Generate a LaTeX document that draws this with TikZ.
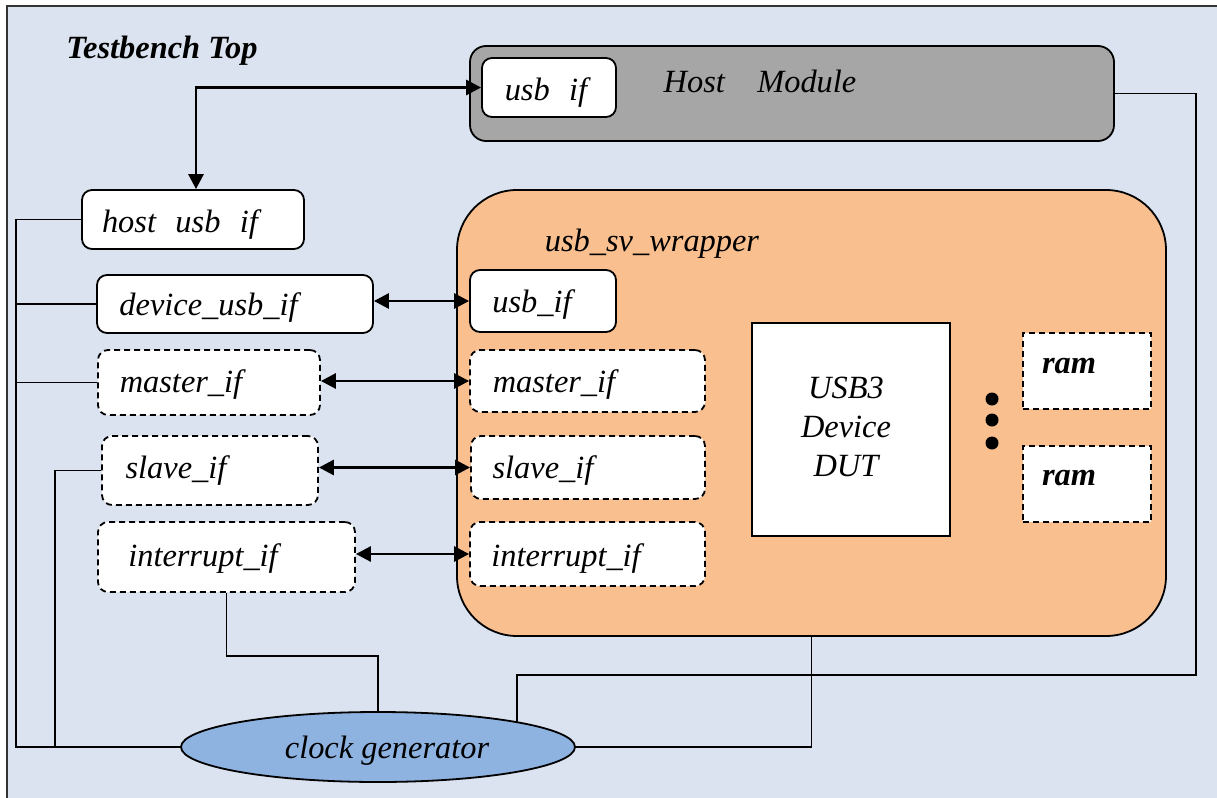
\documentclass[tikz,border=0pt]{standalone}
\usepackage{fontspec}
\setmainfont{Liberation Serif}
\usetikzlibrary{arrows.meta,shapes.geometric,calc}
\pgfdeclarelayer{bg}
\pgfdeclarelayer{wires}
\pgfsetlayers{bg,wires,main}
\definecolor{tbblue}{HTML}{DAE3EF}
\definecolor{hostgrey}{HTML}{A6A6A6}
\definecolor{wrapfill}{HTML}{F9BF8F}
\definecolor{clkfill}{HTML}{8EB3E1}
\tikzset{
  lbl/.style={font=\fontsize{16.2}{19.5}\selectfont\itshape, inner sep=0pt, align=center, yshift=-1.5pt},
  blbl/.style={font=\fontsize{16.2}{19.5}\selectfont\bfseries\itshape, inner sep=0pt, yshift=-1.5pt},
  ifbox/.style={draw, line width=0.9pt, fill=white, rounded corners=5pt, inner sep=0pt},
  dashbox/.style={ifbox, dash pattern=on 3pt off 2pt},
  wire/.style={line width=0.9pt},
  link/.style={line width=1.4pt, {Triangle[length=7.5pt,width=7.5pt]}-{Triangle[length=7.5pt,width=7.5pt]}},
}
\begin{document}
\begin{tikzpicture}[x=0.5pt,y=-0.5pt]
\useasboundingbox (0,0) rectangle (1217,798);

% testbench frame
\begin{pgfonlayer}{bg}
  \fill[tbblue] (7,6) rectangle (1217,798);
  \draw[line width=0.7pt, black!80] (7,798) -- (7,6) -- (1217,6);
\end{pgfonlayer}

\node[blbl, anchor=west] (tbtitle) at (66,48) {Testbench Top};

% host module
\node[draw, line width=0.9pt, fill=hostgrey, rounded corners=8pt, minimum width=322pt, minimum height=47.5pt, inner sep=0pt] (hostmod) at (792,93.5) {};
\node[lbl] (hostlbl) at (760,78) {Host\hspace{1em}Module};
\node[ifbox, minimum width=67pt, minimum height=29.5pt] (husb) at (549,87.5) {};
\node[lbl] (husblbl) at (546,90) {usb\hspace{0.6em}if};

% testbench-side interfaces
\node[ifbox, minimum width=111pt, minimum height=29.5pt] (hostusb) at (193,219.5) {};
\node[lbl] at (180,222) {host\hspace{0.6em}usb\hspace{0.6em}if};
\node[ifbox, minimum width=138pt, minimum height=29pt] (devusb) at (235,304) {};
\node[lbl] at (208.5,305) {device\_usb\_if};
\node[dashbox, minimum width=111pt, minimum height=32.5pt] (masterL) at (209,382.5) {};
\node[lbl] at (181,382) {master\_if};
\node[dashbox, minimum width=108pt, minimum height=34.5pt] (slaveL) at (210,470.5) {};
\node[lbl] at (176,468) {slave\_if};
\node[dashbox, minimum width=128.5pt, minimum height=35pt] (intL) at (226.5,557) {};
\node[lbl] at (203,556) {interrupt\_if};

% wrapper
\node[draw, line width=0.9pt, fill=wrapfill, rounded corners=30pt, minimum width=354.5pt, minimum height=223pt, inner sep=0pt] (wrap) at (811.5,413) {};
\node[lbl] (wraplbl) at (652,241) {usb\_sv\_wrapper};

\node[ifbox, minimum width=73pt, minimum height=31pt] (wusb) at (543,301) {};
\node[lbl] at (532,302) {usb\_if};
\node[dashbox, minimum width=117.5pt, minimum height=31pt] (masterR) at (587.5,381) {};
\node[lbl] at (554,382) {master\_if};
\node[dashbox, minimum width=117pt, minimum height=31.5pt] (slaveR) at (588,467.5) {};
\node[lbl] at (543,468) {slave\_if};
\node[dashbox, minimum width=117.5pt, minimum height=32pt] (intR) at (587.5,554) {};
\node[lbl] at (566,556) {interrupt\_if};

% device under test
\node[draw, line width=0.9pt, fill=white, minimum width=99pt, minimum height=106.5pt, inner sep=0pt] (dut) at (851,429.5) {};
\node[lbl] (dutlbl) at (846,424) {USB3\\Device\\DUT};

% memories
\node[draw, line width=0.9pt, dash pattern=on 3pt off 2pt, fill=white, minimum width=64pt, minimum height=38pt, inner sep=0pt] (ram1) at (1087,371) {};
\node[blbl] at (1069,363) {ram};
\node[draw, line width=0.9pt, dash pattern=on 3pt off 2pt, fill=white, minimum width=64pt, minimum height=38pt, inner sep=0pt] (ram2) at (1087,484) {};
\node[blbl] at (1069,475) {ram};
\foreach \n/\yy in {d1/399, d2/420, d3/443}
  \node[circle, fill=black, minimum size=6.5pt, inner sep=0pt] (\n) at (992,\yy) {};

% clock generator
\node[ellipse, draw, line width=0.9pt, fill=clkfill, minimum width=197pt, minimum height=35pt, inner sep=0pt] (clk) at (378,747) {};
\node[lbl] at (387,748) {clock generator};

% named corners of the wiring
\coordinate (busL) at (16,747);
\coordinate (busS) at (55,747);
\coordinate (hostR) at (1196,675);
\coordinate (hostB) at (517,675);

% wiring drawn under the blocks
\begin{pgfonlayer}{wires}
  \draw[wire] (hostusb.west) -| (busL) -- (clk.center);
  \draw[wire] (devusb.west) -- (devusb.west -| busL);
  \draw[wire] (masterL.west) -- (masterL.west -| busL);
  \draw[wire] (slaveL.west) -| (busS);
  \draw[wire] (intL.south) -- ++(0,63) -| (clk.north);
  \draw[wire] (wrap.south) |- (clk.center);
  \draw[wire] (hostmod.east) -| (hostR) -- (hostB) -- (hostB |- clk.center);
  \draw[wire] (wusb.east) -| (dut.north);
  \draw[wire] (masterR.east) -- (masterR.east -| dut.west);
  \draw[wire] (slaveR.east) -- (slaveR.east -| dut.west);
  \draw[wire] (intR.east) -| (dut.south);
  \draw[wire] ($(ram1.west)+(0,-3)$) -- ($(ram1.west -| dut.east)+(0,-3)$);
  \draw[wire] ($(ram2.west)+(0,-3)$) -- ($(ram2.west -| dut.east)+(0,-3)$);
\end{pgfonlayer}

% bidirectional interface links
\draw[link] (husb.west) -| ($(hostusb.north)+(3,0)$);
\draw[link] (devusb.east |- wusb.west) -- (wusb.west);
\draw[link] (masterL.east |- masterR.west) -- (masterR.west);
\draw[link] (slaveL.east |- slaveR.west) -- (slaveR.west);
\draw[link] (intL.east |- intR.west) -- (intR.west);
\end{tikzpicture}
\end{document}
